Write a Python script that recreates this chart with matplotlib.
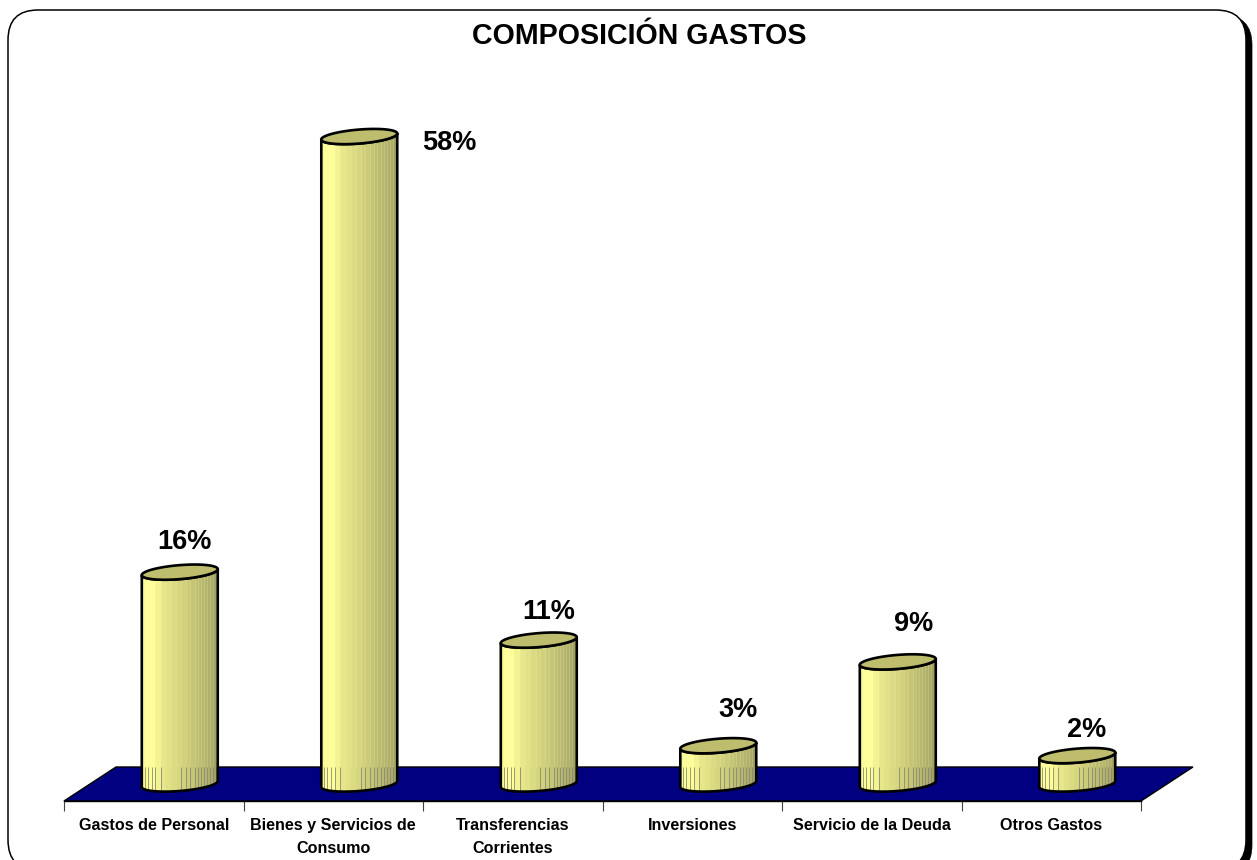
import numpy as np
import matplotlib
matplotlib.use("Agg")
import matplotlib.pyplot as plt
from matplotlib.colors import LinearSegmentedColormap
from matplotlib.patches import FancyBboxPatch, Polygon
from matplotlib.transforms import IdentityTransform

plt.rcParams['font.family'] = ['Liberation Sans', 'DejaVu Sans']

# Data
categories = ["Gastos de Personal", "Bienes y Servicios de\nConsumo", "Transferencias\nCorrientes",
              "Inversiones", "Servicio de la Deuda", "Otros Gastos"]
bar_heights = [16.05, 49.05, 10.9, 2.9, 9.25, 2.15]
value_labels = ["16%", "58%", "11%", "3%", "9%", "2%"]

W, H = 1257, 860
# Layout, in pixels of the output picture
plot_left, plot_right, front_y, top_y = 64, 1141, 801, 50
px_per_cat = (plot_right - plot_left) / len(categories)
px_per_val = 13.2
depth_x, depth_y = 52, 34
base_y = front_y - depth_y / 2
label_offsets = [(5, 30), (90, -6), (10, 28), (20, 36), (16, 38), (9, 26)]

dx = 1 / px_per_cat
dy = 1 / px_per_val
half_w = 38 * dx
ell_b = 7 * dy
ell_skew = 3 * dy

fig = plt.figure(figsize=(W / 100, H / 100), dpi=100)


def frame(x0, y0, x1, y1, **kw):
    r = 30
    p = FancyBboxPatch((x0 + r, H - y1 + r), x1 - x0 - 2 * r, y1 - y0 - 2 * r,
                       boxstyle="round,pad=%d,rounding_size=%d" % (r, r),
                       transform=IdentityTransform(), zorder=-1, **kw)
    fig.add_artist(p)


# shadow first, then the white panel over it
frame(13, 15, 1252, 875, fc="black", ec="black", lw=0.5)
frame(8, 10, 1246, 870, fc="white", ec="black", lw=1.1)

ax = fig.add_axes([plot_left / W, (H - front_y) / H, (plot_right - plot_left) / W, (front_y - top_y) / H])
ax.patch.set_visible(False)
ax.set_xlim(-0.5, len(categories) - 0.5)
ax.set_ylim(-(front_y - base_y) * dy, (base_y - top_y) * dy)

# floor
y_low = ax.get_ylim()[0]
x_low, x_high = ax.get_xlim()
floor = Polygon([(x_low, y_low), (x_high, y_low), (x_high + depth_x * dx, y_low + depth_y * dy),
                 (x_low + depth_x * dx, y_low + depth_y * dy)], fc="#000080", ec="black", lw=1,
                zorder=1, clip_on=False)
ax.add_patch(floor)

cmap = LinearSegmentedColormap.from_list("cyl", [(0, "#F8F892"), (0.04, "#FFFF99"), (0.16, "#FFFF99"),
                                                 (0.28, "#E6E68A"), (0.52, "#D4D47E"), (0.72, "#C0C072"),
                                                 (0.92, "#ACAC68"), (1, "#989858")])
band_edges = np.array([0, 0.04, 0.08, 0.13, 0.18, 0.25, 0.32, 0.39, 0.46, 0.52, 0.58, 0.64, 0.7, 0.74,
                       0.78, 0.82, 0.86, 0.9, 0.94, 0.98, 1.0])
tick_edges = np.array([0.04, 0.08, 0.13, 0.18, 0.25, 0.52, 0.58, 0.64, 0.7, 0.74, 0.78, 0.82,
                       0.86, 0.9, 0.94, 0.98])
t = np.linspace(0, 2 * np.pi, 121)

for i, h in enumerate(bar_heights):
    cx = i + depth_x / 2 * dx
    xs = cx + half_w * np.cos(t)
    ell = ell_b * np.sin(t) + ell_skew * np.cos(t)

    # outline of the body: front half of the top and bottom ellipses
    front = np.sin(t) <= 0
    order = np.argsort(xs[front])
    fx, fe = xs[front][order], ell[front][order]
    body_x = np.r_[fx, fx[::-1]]
    body_y = np.r_[h + fe, fe[::-1]]
    body = Polygon(np.c_[body_x, body_y], fc="none", ec="black", lw=1.9, zorder=4, joinstyle="round")
    ax.add_patch(body)

    # stepped shading across the cylinder
    edges = cx - half_w + 2 * half_w * band_edges
    mids = (band_edges[:-1] + band_edges[1:]) / 2
    yy = np.array([-2 * ell_b, h + 2 * ell_b])
    mesh = ax.pcolormesh(edges, yy, mids[None, :], cmap=cmap, vmin=0, vmax=1, zorder=2, shading="flat")
    mesh.set_clip_path(body)
    lines = ax.vlines(edges[1:-1], y_low + depth_y * dy, h + 2 * ell_b, color="#F4F4C0", lw=0.5, alpha=0.35, zorder=3)
    lines.set_clip_path(body)
    tick_x = cx - half_w + 2 * half_w * tick_edges
    ticks = ax.vlines(tick_x, -2 * ell_b, y_low + depth_y * dy, color="#8A8A78", lw=0.6, zorder=3)
    ticks.set_clip_path(body)

    # top of the cylinder
    ax.add_patch(Polygon(np.c_[xs, h + ell], fc="#BDBD6D", ec="black", lw=1.9, zorder=5))

    ax.annotate(value_labels[i], (cx, h), xytext=(label_offsets[i][0] * 0.72, label_offsets[i][1] * 0.72),
                textcoords="offset points", ha="center", va="center", fontsize=19.5, fontweight="bold", zorder=6)

ax.set_yticks([])
for side in ["top", "left", "right"]:
    ax.spines[side].set_visible(False)
ax.spines["bottom"].set_linewidth(1)
ax.set_xticks(np.arange(len(categories) + 1) - 0.5)
ax.set_xticklabels([])
ax.tick_params(axis="x", which="major", length=7, width=0.8, color="#404040")
ax.set_xticks(np.arange(len(categories)), minor=True)
ax.set_xticklabels(categories, minor=True, fontsize=11.6, fontweight="bold", linespacing=1.65)
ax.tick_params(axis="x", which="minor", length=0, pad=12.5)

fig.text(639 / W, 1 - 35.5 / H, "COMPOSICIÓN GASTOS", ha="center", va="center", fontsize=20.6, fontweight="bold")

fig.savefig("out.png", dpi=100)
